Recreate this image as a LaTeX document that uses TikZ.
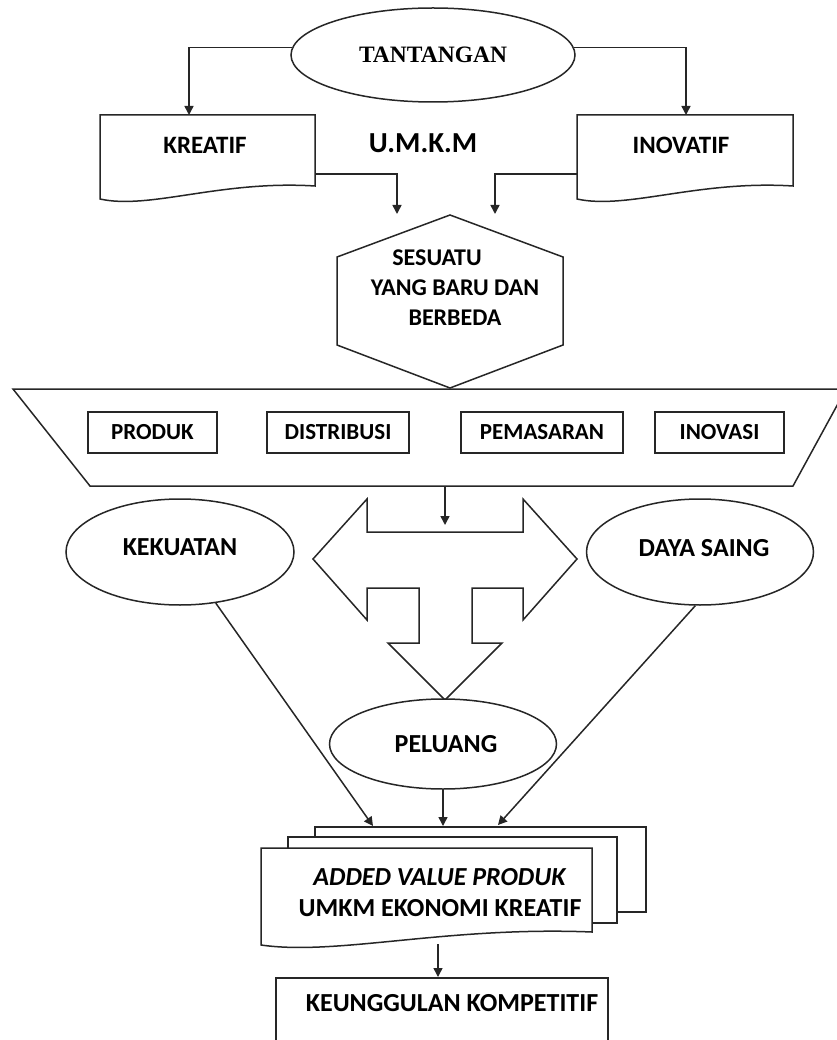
\documentclass[tikz,border=0pt]{standalone}
\usepackage{fontspec}
\setmainfont{Carlito}
\newfontfamily\titleserif{Liberation Serif}
\usetikzlibrary{arrows.meta,shapes.geometric}

% document outline with a wavy lower edge: left, top, right, lower-right y
\newcommand{\docoutline}[4]{%
  \draw[line,fill=white] (#1,#2) -- (#3,#2) -- (#3,#4)
    .. controls ({#1+0.56*(#3-#1)},{#4-6}) and ({#1+0.23*(#3-#1)},{#4+24}) .. (#1,{#4+13}) -- cycle;}

\begin{document}
\begin{tikzpicture}[x=1pt,y=-1pt,
  line/.style={draw=black!85,line width=1.5pt},
  arr/.style={line,-{Triangle[length=9pt,width=9pt]}},
  txt/.style={font=\fontsize{25}{30}\selectfont\bfseries,inner sep=0pt,align=center},
  bigtxt/.style={font=\fontsize{26}{31}\selectfont\bfseries,inner sep=0pt,align=center},
  oval/.style={ellipse,line,fill=white,inner sep=0pt},
  smallbox/.style={rectangle,line,minimum height=41pt,inner sep=0pt,font=\fontsize{23}{28}\selectfont\bfseries}]
\useasboundingbox (0,0) rectangle (836,1040);

% --- challenge at the top
\node[oval,minimum width=284pt,minimum height=94pt,font=\fontsize{23.5}{28}\titleserif\bfseries] (tant) at (433,55) {TANTANGAN};

% --- creative / innovative documents
\docoutline{100}{115}{315}{186}
\docoutline{577}{115}{793}{186}
\node[txt] (kreatif) at (205,145) {KREATIF};
\node[txt] (inovatif) at (681,145) {INOVATIF};
\coordinate (kreatifin) at (189,115);
\coordinate (inovatifin) at (686,115);
\coordinate (kreatifout) at (315,174);
\coordinate (inovatifout) at (577,174);
\node[font=\fontsize{29}{34}\selectfont\bfseries,inner sep=0pt] (umkm) at (423,143) {U.M.K.M};

\draw[arr] (tant.177) -| (kreatifin);
\draw[arr] (tant.3) -| (inovatifin);

% --- hexagon
\draw[line,fill=white] (450,215) -- (563,257) -- (563,345) -- (450,388) -- (337,345) -- (337,257) -- cycle;
\node[txt,font=\fontsize{24}{30}\selectfont\bfseries] (hex) at (455,288) {SESUATU\hspace*{1.5em}\\YANG BARU DAN\\BERBEDA};
\coordinate (hexinL) at (397,214);
\coordinate (hexinR) at (495,214);
\draw[arr] (kreatifout) -| (hexinL);
\draw[arr] (inovatifout) -| (hexinR);

% --- trapezoid with the four fields
\draw[line] (13,389) -- (846,389) -- (793,486) -- (90,486) -- cycle;
\node[smallbox,minimum width=129pt] (produk) at (152.5,432.5) {PRODUK};
\node[smallbox,minimum width=142pt] (distribusi) at (338,432.5) {DISTRIBUSI};
\node[smallbox,minimum width=162pt] (pemasaran) at (542,432.5) {PEMASARAN};
\node[smallbox,minimum width=129pt] (inovasi) at (719.5,432.5) {INOVASI};
\coordinate (trapout) at (445,486);
\coordinate (trapin) at (445,525);
\draw[arr] (trapout) -- (trapin);

% --- left-right-down block arrow
\draw[line] (313,559) -- (367,499) -- (367,532) -- (523,532) -- (523,499) -- (577,559)
  -- (523,620) -- (523,588) -- (472,588) -- (472,643) -- (502,643) -- (445,700)
  -- (388,643) -- (419,643) -- (419,588) -- (367,588) -- (367,620) -- cycle;

% --- strength, competitiveness, opportunity
\node[oval,minimum width=228pt,minimum height=106pt,bigtxt] (kek) at (180,552) {\raisebox{9pt}{KEKUATAN}};
\node[oval,minimum width=227pt,minimum height=106pt,bigtxt] (daya) at (700,552) {\raisebox{9pt}{\hspace*{8pt}DAYA SAING}};
\node[oval,minimum width=227pt,minimum height=90pt,bigtxt] (pel) at (443,744) {\raisebox{-5pt}{\hspace*{6pt}PELUANG}};

% --- stacked documents
\draw[line,fill=white] (315,827) rectangle (646,912);
\draw[line,fill=white] (288,837) rectangle (617,923);
\docoutline{261}{848}{592}{932}
\node[bigtxt] (added) at (440,893) {\textit{ADDED VALUE PRODUK}\\UMKM EKONOMI KREATIF};
\coordinate (stackL) at (373,826);
\coordinate (stackM) at (443,826);
\coordinate (stackR) at (498,825);
\draw[arr] (kek.-55) -- (stackL);
\draw[arr] (pel.south) -- (stackM);
\draw[arr] (daya.-95) -- (stackR);

% --- competitive advantage
\node[rectangle,line,minimum width=332pt,minimum height=100pt,anchor=north] (keung) at (442,977) {};
\node[bigtxt] (keungtxt) at (452,1003) {KEUNGGULAN KOMPETITIF};
\coordinate (addedout) at (438,944);
\draw[arr] (addedout) -- (addedout |- keung.north);
\end{tikzpicture}
\end{document}
